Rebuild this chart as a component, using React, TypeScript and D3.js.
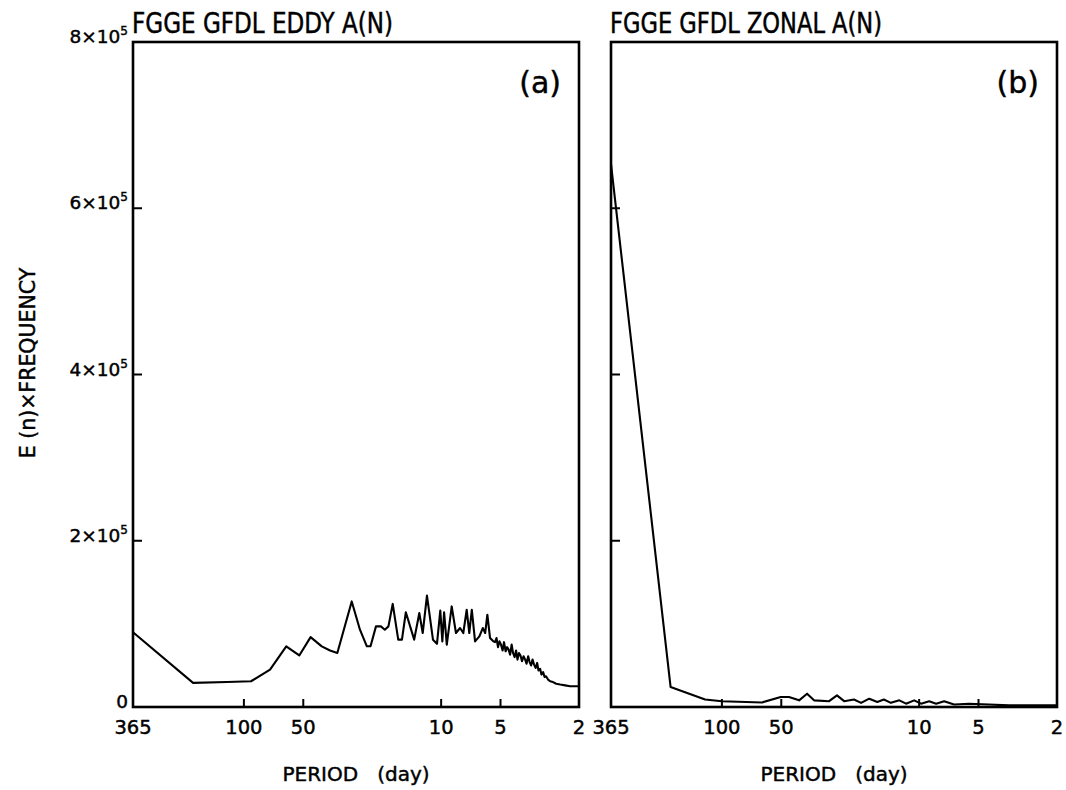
import React from "react";
import * as d3 from "d3";

// Panel (a): eddy A(N) spectrum, period (days) vs E(n)×frequency (units of 10^5)
const eddyPeriod = [
  365, 181, 121.7, 92, 73.7, 61, 52.4, 45.9, 40.3, 36.6, 33.6, 28.4, 25.8, 23.8, 22.8, 21.4,
  20.2, 19.3, 18.5, 17.6, 16.5, 15.8, 15.1, 13.7, 12.9, 12.4, 11.8, 11.0, 10.5, 10.1, 9.86,
  9.66, 9.36, 8.84, 8.41, 8.02, 7.72, 7.42, 7.2, 6.99, 6.73, 6.4, 6.15, 5.98, 5.83, 5.65,
  5.44, 5.33, 5.24, 5.15, 5.06, 4.97, 4.88, 4.8, 4.71, 4.63, 4.55, 4.47, 4.39, 4.32, 4.24,
  4.17, 4.1, 4.03, 3.96, 3.89, 3.82, 3.75, 3.69, 3.62, 3.56, 3.5, 3.44, 3.38, 3.32, 3.26,
  3.21, 3.15, 3.1, 3.04, 2.99, 2.94, 2.87, 2.8, 2.71, 2.61, 2.49, 2.35, 2.22, 2.0,
];
const eddyValue = [
  0.9, 0.29, 0.3, 0.31, 0.45, 0.73, 0.62, 0.84, 0.73, 0.68, 0.65, 1.27, 0.93, 0.73, 0.73, 0.97,
  0.97, 0.93, 0.97, 1.24, 0.81, 0.81, 1.14, 0.81, 1.13, 0.89, 1.34, 0.81, 0.76, 1.16, 0.79,
  1.14, 0.75, 1.21, 0.89, 0.95, 0.89, 1.17, 0.89, 1.17, 0.79, 0.85, 0.95, 0.89, 1.11, 0.83,
  0.79, 0.78, 0.83, 0.72, 0.79, 0.75, 0.68, 0.78, 0.67, 0.72, 0.69, 0.63, 0.75, 0.65, 0.6,
  0.68, 0.57, 0.65, 0.62, 0.55, 0.61, 0.57, 0.52, 0.61, 0.54, 0.5, 0.57, 0.51, 0.47, 0.53,
  0.44, 0.46, 0.39, 0.42, 0.36, 0.37, 0.33, 0.31, 0.3, 0.28, 0.27, 0.26, 0.25, 0.25,
];

// Panel (b): zonal A(N) spectrum
const zonalPeriod = [
  365, 182, 121.7, 100, 62.6, 50.3, 45.7, 40.6, 37.0, 34.1, 28.6, 26.1, 24.0, 21.4, 19.7,
  17.9, 16.3, 15.1, 13.9, 12.6, 11.65, 10.6, 9.78, 8.9, 8.2, 7.47, 6.65, 5.58, 4.42, 3.5,
  2.77, 2.0,
];
const zonalValue = [
  6.53, 0.24, 0.09, 0.07, 0.055, 0.12, 0.12, 0.08, 0.16, 0.08, 0.07, 0.14, 0.07, 0.09, 0.05,
  0.1, 0.06, 0.09, 0.05, 0.08, 0.04, 0.08, 0.04, 0.07, 0.04, 0.07, 0.03, 0.04, 0.03, 0.02,
  0.02, 0.02,
];

const xTickValues = [365, 100, 50, 10, 5, 2];
const xInnerTicks = [100, 50, 10, 5];
const yTickValues = [0, 2, 4, 6, 8];
const yInnerTicks = [2, 4, 6];

const TOP = 42;
const BOTTOM = 707;
const LABEL_FONT = "'DejaVu Sans', 'Liberation Sans', sans-serif";
const TITLE_FONT = "'Liberation Sans Narrow', 'DejaVu Sans Condensed', 'Liberation Sans', sans-serif";

type PanelProps = {
  x0: number;
  x1: number;
  title: string;
  titleLen: number;
  tag: string;
  period: number[];
  value: number[];
  yLabels: boolean;
};

function Panel({ x0, x1, title, titleLen, tag, period, value, yLabels }: PanelProps) {
  const x = d3.scaleLog().domain([365, 2]).range([x0, x1]);
  const y = d3.scaleLinear().domain([0, 8]).range([BOTTOM, TOP]);
  const pts = period.map((p, i) => [p, value[i]] as [number, number]);
  const line = d3
    .line<[number, number]>()
    .x((d) => x(d[0]))
    .y((d) => y(d[1]));
  const cx = (x0 + x1) / 2;
  const bold = { stroke: "#000", strokeWidth: 0.45 };
  return (
    <g>
      <text
        x={x0 - 1}
        y={33}
        fontFamily={TITLE_FONT}
        fontSize={28}
        textLength={titleLen}
        lengthAdjust="spacingAndGlyphs"
        fill="#000"
        {...bold}
      >
        {title}
      </text>
      <path d={line(pts) || ""} fill="none" stroke="#000" strokeWidth={2.1} strokeLinejoin="round" />
      <rect x={x0} y={TOP} width={x1 - x0} height={BOTTOM - TOP} fill="none" stroke="#000" strokeWidth={2.6} />
      {xInnerTicks.map((t) => (
        <line key={"xt" + t} x1={x(t)} x2={x(t)} y1={BOTTOM} y2={BOTTOM - 8} stroke="#000" strokeWidth={2} />
      ))}
      {yInnerTicks.map((t) => (
        <line key={"yt" + t} x1={x0} x2={x0 + 9} y1={y(t)} y2={y(t)} stroke="#000" strokeWidth={2} />
      ))}
      {xTickValues.map((t) => (
        <text
          key={"xl" + t}
          x={x(t)}
          y={734}
          textAnchor="middle"
          fontFamily={LABEL_FONT}
          fontSize={19.5}
          fill="#000"
          {...bold}
        >
          {t}
        </text>
      ))}
      {yLabels &&
        yTickValues.map((t) => (
          <text
            key={"yl" + t}
            x={x0 - 5}
            y={y(t) + 1}
            textAnchor="end"
            fontFamily={LABEL_FONT}
            fontSize={18.5}
            fill="#000"
            {...bold}
          >
            {t === 0 ? (
              "0"
            ) : (
              <>
                {t}×10
                <tspan dy={-8} fontSize={12}>
                  5
                </tspan>
              </>
            )}
          </text>
        ))}
      <text
        x={x1 - 18}
        y={93}
        textAnchor="end"
        fontFamily={LABEL_FONT}
        fontSize={30}
        fill="#000"
        {...bold}
      >
        {tag}
      </text>
      <text
        x={cx}
        y={781}
        textAnchor="middle"
        fontFamily={LABEL_FONT}
        fontSize={20}
        fill="#000"
        xmlSpace="preserve"
        {...bold}
      >
        {"PERIOD   (day)"}
      </text>
    </g>
  );
}

export default function App() {
  return (
    <svg
      width={1066}
      height={790}
      viewBox="0 0 1066 790"
      style={{ position: "absolute", left: 0, top: 0, background: "#fff" }}
    >
      <rect x={0} y={0} width={1066} height={790} fill="#fff" />
      <text
        transform="translate(35,363) rotate(-90)"
        textAnchor="middle"
        fontFamily={LABEL_FONT}
        fontSize={20.5}
        fill="#000"
        stroke="#000"
        strokeWidth={0.45}
      >
        E (n)×FREQUENCY
      </text>
      <Panel
        x0={133}
        x1={579}
        title="FGGE GFDL EDDY A(N)"
        titleLen={261}
        tag="(a)"
        period={eddyPeriod}
        value={eddyValue}
        yLabels={true}
      />
      <Panel
        x0={611}
        x1={1057}
        title="FGGE GFDL ZONAL A(N)"
        titleLen={272}
        tag="(b)"
        period={zonalPeriod}
        value={zonalValue}
        yLabels={false}
      />
    </svg>
  );
}
